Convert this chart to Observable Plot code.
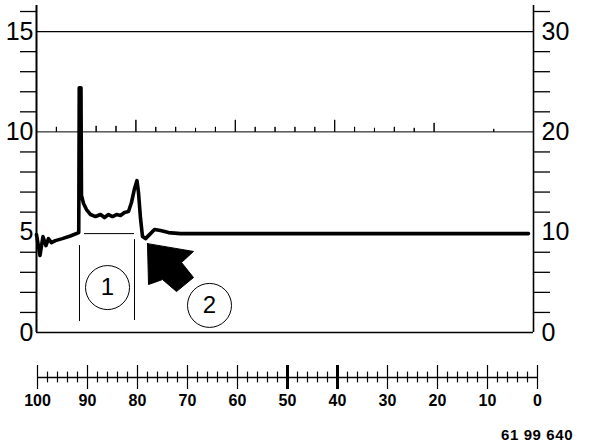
<!DOCTYPE html>
<html>
<head>
<meta charset="utf-8">
<script src="https://cdn.jsdelivr.net/npm/d3@7"></script>
<script src="https://cdn.jsdelivr.net/npm/@observablehq/plot@0.6"></script>
<style>
  html, body { margin: 0; padding: 0; background: #fff; }
  #wrap { position: relative; width: 592px; height: 446px; background: #fff; font-family: "Liberation Sans", Arial, Helvetica, sans-serif; }
  #wrap svg { position: absolute; left: 0; background: transparent; }
  #caption { position: absolute; left: 501px; top: 426px; font-size: 15px; font-weight: bold; letter-spacing: 0.6px; color: #000; white-space: nowrap; }
</style>
</head>
<body>
<div id="wrap"><div id="caption">61 99 640</div></div>
<script>
// ---- Main trace (left scale units) ----
const mainX = [100, 99.3, 98.7, 98.1, 97.6, 97.0, 96.2, 94.8, 93.2, 91.5, 91.4, 91.3, 91.05, 90.95, 90.54, 89.94, 89.13, 88.13, 87.12, 86.32, 85.51, 84.71, 83.9, 83.1, 82.3, 81.49, 80.89, 80.28, 79.78, 79.48, 79.07, 78.67, 78.07, 77.26, 76.26, 75.05, 73.44, 71.03, 1.0];
const mainY = [4.88, 3.84, 4.78, 4.33, 4.68, 4.48, 4.58, 4.68, 4.81, 4.98, 12.2, 12.2, 12.2, 6.83, 6.43, 6.13, 5.88, 5.78, 5.88, 5.73, 5.88, 5.78, 5.88, 5.83, 5.98, 6.03, 6.48, 7.17, 7.57, 6.98, 5.68, 4.78, 4.68, 4.88, 5.13, 5.08, 4.98, 4.93, 4.93];

// ---- Secondary trace (right scale units) ----
const secStart = 100, secEnd = 0, secBase = 20;
const spikeX = [96, 88, 84, 80, 76, 72, 68, 64, 60, 56, 52, 48, 44, 40, 36, 32, 28, 24, 20, 8];
const spikePeak = [20.5, 20.6, 20.6, 21.2, 20.5, 20.5, 20.4, 20.5, 21.2, 20.5, 20.5, 20.5, 20.5, 21.2, 20.5, 20.4, 20.5, 20.4, 20.9, 20.3];

// ---- Axes ----
const leftLabels = [0, 5, 10, 15];
const rightLabels = [0, 10, 20, 30];
const leftMinor = [1, 2, 3, 4, 6, 7, 8, 9, 11, 12, 13, 14, 16];
const yTop = 16.3;

// ---- Annotations ----
const boxTop = [{y: 4.93, x1: 90.34, x2: 80.28}];
const boxSides = [{x: 91.35, y1: 4.33, y2: 0.55}, {x: 80.28, y1: 4.63, y2: 0.6}];
const circles = [{x: 85.71, y: 2.24, label: "1"}, {x: 65.19, y: 1.35, label: "2"}];
const arrowX = [77.67, 68.41, 70.82, 68.41, 71.83, 74.65, 77.46, 77.67];
const arrowY = [4.43, 4.04, 3.49, 2.74, 2.04, 2.64, 2.39, 4.43];

// ---- Bottom ruler ----
const rulerMajor = [100, 90, 80, 70, 60, 50, 40, 30, 20, 10, 0];
const rulerMinor = [98, 96, 94, 92, 88, 86, 84, 82, 78, 76, 74, 72, 68, 66, 64, 62, 58, 56, 54, 52, 48, 46, 44, 42, 38, 36, 34, 32, 28, 26, 24, 22, 18, 16, 14, 12, 8, 6, 4, 2];
const rulerHeavy = [50, 40];

const mainData = mainX.map((x, i) => ({x, y: mainY[i]}));
const secData = [{x: secStart, y: secBase}];
spikeX.forEach((x, i) => { secData.push({x, y: secBase}, {x, y: spikePeak[i]}, {x, y: secBase}); });
secData.push({x: secEnd, y: secBase});
const arrowData = arrowX.map((x, i) => ({x, y: arrowY[i]}));

const font = "'Liberation Sans', Arial, Helvetica, sans-serif";

// scale geometry
const xDomain = [100, 0], xRange = [36, 533];
const pxPerUnit = (xRange[1] - xRange[0]) / (xDomain[0] - xDomain[1]);
const leftTickLen = 16 / pxPerUnit, rightTickLen = 17 / pxPerUnit;

const main = Plot.plot({
  width: 592, height: 340,
  marginLeft: 36, marginRight: 59, marginTop: 5, marginBottom: 8,
  style: {fontFamily: font, background: "transparent", color: "#000", overflow: "visible"},
  x: {domain: xDomain, range: xRange, axis: null},
  y: {domain: [0, yTop], range: [332, 5], axis: null},
  marks: [
    Plot.ruleY([15], {stroke: "#000", strokeWidth: 1.4}),
    Plot.ruleY([0], {stroke: "#000", strokeWidth: 1.6}),
    Plot.ruleX([xDomain[0]], {stroke: "#000", strokeWidth: 2}),
    Plot.ruleX([xDomain[1]], {stroke: "#000", strokeWidth: 1.6}),
    Plot.ruleY(leftMinor, {x1: xDomain[0], x2: xDomain[0] + leftTickLen, stroke: "#000", strokeWidth: 1.3}),
    Plot.ruleY(leftMinor, {x1: xDomain[1], x2: xDomain[1] - rightTickLen, stroke: "#000", strokeWidth: 1.3}),
    Plot.text(leftLabels, {x: xDomain[0], y: (d) => d, dx: -3, textAnchor: "end", text: (d) => String(d), fontSize: 25, fill: "#000"}),
    Plot.text(leftLabels, {x: xDomain[1], y: (d) => d, dx: 8, textAnchor: "start", text: (d, i) => String(rightLabels[i]), fontSize: 25, fill: "#000"}),
    Plot.line(secData, {x: "x", y: (d) => d.y / 2, stroke: "#000", strokeWidth: 1}),
    Plot.line(mainData, {x: "x", y: "y", stroke: "#000", strokeWidth: 3.6, strokeLinejoin: "round"}),
    Plot.ruleY(boxTop, {y: "y", x1: "x1", x2: "x2", stroke: "#000", strokeWidth: 1}),
    Plot.ruleX(boxSides, {x: "x", y1: "y1", y2: "y2", stroke: "#000", strokeWidth: 1}),
    Plot.line(arrowData, {x: "x", y: "y", fill: "#000", stroke: "#000", strokeWidth: 1, strokeLinejoin: "miter"}),
    Plot.dot(circles, {x: "x", y: "y", r: 22, fill: "#fff", stroke: "#000", strokeWidth: 1}),
    Plot.text(circles, {x: "x", y: "y", text: "label", fontSize: 24, fill: "#000"})
  ]
});
main.style.top = "0px";

const ruler = Plot.plot({
  width: 592, height: 106,
  marginLeft: 37, marginRight: 55, marginTop: 0, marginBottom: 0,
  style: {fontFamily: font, background: "transparent", color: "#000", overflow: "visible"},
  x: {domain: [100, 0], range: [37, 537], axis: null},
  y: {domain: [1, -1], range: [25, 49], axis: null},
  marks: [
    Plot.ruleY([0], {stroke: "#000", strokeWidth: 1.3}),
    Plot.ruleX(rulerMinor, {y1: 0.45, y2: -0.45, stroke: "#000", strokeWidth: 1.2}),
    Plot.ruleX(rulerMajor, {y1: 1, y2: -1, stroke: "#000", strokeWidth: 1.2}),
    Plot.ruleX(rulerHeavy, {y1: 1, y2: -1, stroke: "#000", strokeWidth: 3}),
    Plot.text(rulerMajor, {x: (d) => d, y: -1, dy: 11, text: (d) => String(d), fontSize: 16, fontWeight: "bold", fill: "#000"})
  ]
});
ruler.style.top = "340px";

const wrap = document.getElementById("wrap");
wrap.appendChild(main);
wrap.appendChild(ruler);
</script>
</body>
</html>
